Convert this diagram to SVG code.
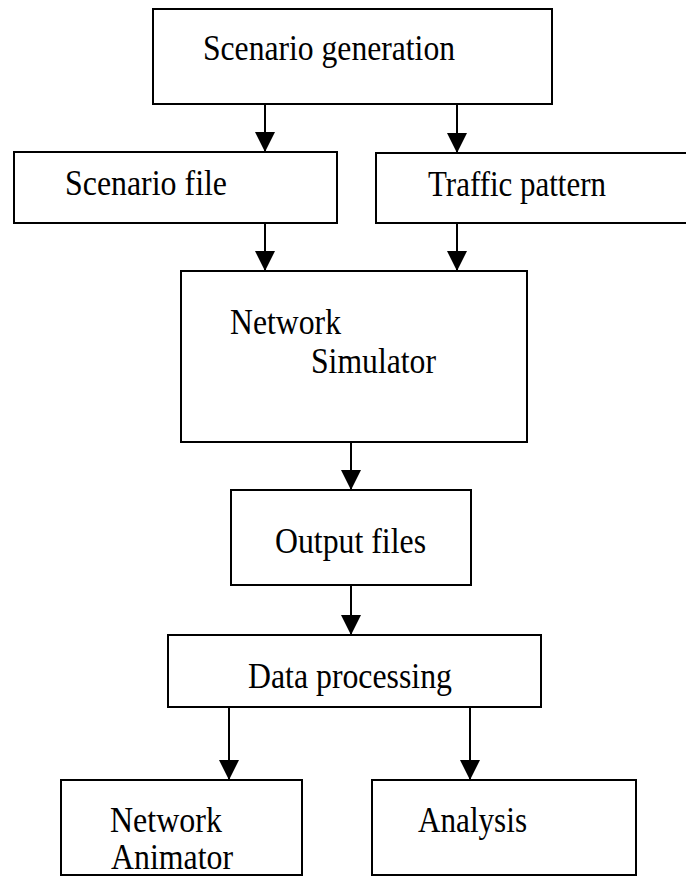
<svg xmlns="http://www.w3.org/2000/svg" width="686" height="877" viewBox="0 0 686 877">
  <style>
    .box { fill: #ffffff; stroke: #000000; stroke-width: 2; }
    .lbl { font-family: "Liberation Serif", "Times New Roman", serif; font-size: 35px; fill: #000000; }
    .edge { stroke: #000000; stroke-width: 2; fill: none; marker-end: url(#head); }
  </style>
  <defs>
    <marker id="head" markerUnits="userSpaceOnUse" markerWidth="20" markerHeight="20" refX="20" refY="10" orient="auto">
      <path d="M0,0 L20,10 L0,20 Z" fill="#000000"/>
    </marker>
  </defs>
  <rect width="686" height="877" fill="#ffffff"/>

  <g id="connectors">
    <line class="edge" x1="265" y1="104" x2="265" y2="152"/>
    <line class="edge" x1="457" y1="104" x2="457" y2="153"/>
    <line class="edge" x1="265" y1="223" x2="265" y2="271"/>
    <line class="edge" x1="457" y1="223" x2="457" y2="271"/>
    <line class="edge" x1="351" y1="442" x2="351" y2="490"/>
    <line class="edge" x1="351" y1="585" x2="351" y2="635"/>
    <line class="edge" x1="229" y1="707" x2="229" y2="780"/>
    <line class="edge" x1="470" y1="707" x2="470" y2="780"/>
  </g>

  <g id="scenario-generation">
    <rect class="box" x="153" y="9" width="399" height="95"/>
    <text class="lbl" x="203" y="60" textLength="252" lengthAdjust="spacingAndGlyphs">Scenario generation</text>
  </g>

  <g id="scenario-file">
    <rect class="box" x="14" y="152" width="323" height="71"/>
    <text class="lbl" x="65" y="195" textLength="162" lengthAdjust="spacingAndGlyphs">Scenario file</text>
  </g>

  <g id="traffic-pattern">
    <rect class="box" x="376" y="153" width="320" height="70"/>
    <text class="lbl" x="428" y="196" textLength="178" lengthAdjust="spacingAndGlyphs">Traffic pattern</text>
  </g>

  <g id="network-simulator">
    <rect class="box" x="181" y="271" width="346" height="171"/>
    <text class="lbl" x="230" y="334" textLength="111" lengthAdjust="spacingAndGlyphs">Network</text>
    <text class="lbl" x="311" y="373" textLength="125" lengthAdjust="spacingAndGlyphs">Simulator</text>
  </g>

  <g id="output-files">
    <rect class="box" x="231" y="490" width="240" height="95"/>
    <text class="lbl" x="275" y="553" textLength="151" lengthAdjust="spacingAndGlyphs">Output files</text>
  </g>

  <g id="data-processing">
    <rect class="box" x="168" y="635" width="373" height="72"/>
    <text class="lbl" x="248" y="688" textLength="204" lengthAdjust="spacingAndGlyphs">Data processing</text>
  </g>

  <g id="network-animator">
    <rect class="box" x="61" y="780" width="241" height="95"/>
    <text class="lbl" x="110" y="832" textLength="112" lengthAdjust="spacingAndGlyphs">Network</text>
    <text class="lbl" x="111" y="869" textLength="122" lengthAdjust="spacingAndGlyphs">Animator</text>
  </g>

  <g id="analysis">
    <rect class="box" x="372" y="780" width="264" height="95"/>
    <text class="lbl" x="418" y="832" textLength="109" lengthAdjust="spacingAndGlyphs">Analysis</text>
  </g>
</svg>
